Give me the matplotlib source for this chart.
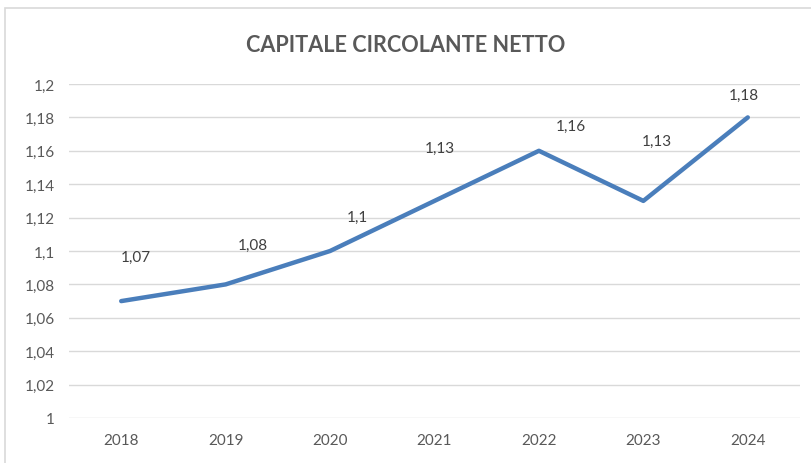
import matplotlib.pyplot as plt
from matplotlib.patches import Rectangle

# dati
anni = ['2018', '2019', '2020', '2021', '2022', '2023', '2024']
valori = [1.07, 1.08, 1.10, 1.13, 1.16, 1.13, 1.18]
etichette = ['1,07', '1,08', '1,1', '1,13', '1,16', '1,13', '1,18']
yticks = [1.00, 1.02, 1.04, 1.06, 1.08, 1.10, 1.12, 1.14, 1.16, 1.18, 1.20]
ytick_labels = ['1', '1,02', '1,04', '1,06', '1,08', '1,1', '1,12', '1,14', '1,16', '1,18', '1,2']

# spostamento delle etichette (pixel) rispetto al punto
offsets = [(15, 44), (27, 40), (27, 34), (5, 53), (32, 25), (13, 60), (-4, 23)]

plt.rcParams['font.family'] = ['Lato', 'DejaVu Sans']
grigio = '#595959'

fig = plt.figure(figsize=(8.11, 4.64), dpi=100)
fig.patches.append(Rectangle((5 / 811, -0.1), 1.2, 1 - 9 / 464 + 0.1,
                             transform=fig.transFigure, fill=False,
                             edgecolor='#d9d9d9', linewidth=1.2))

ax = fig.add_axes([69 / 811, 1 - 419 / 464, 731 / 811, 334 / 464])
x = list(range(len(anni)))
ax.plot(x, valori, color='#4a7ebb', linewidth=3.2, solid_capstyle='round',
        solid_joinstyle='round', zorder=3)

for xi, v, lab, (dx, dy) in zip(x, valori, etichette, offsets):
    ax.annotate(lab, (xi, v), xytext=(dx * 0.72, dy * 0.72), textcoords='offset points',
                ha='center', va='center', fontsize=11, color='#404040')

ax.set_xlim(-0.5, len(anni) - 0.5)
ax.set_ylim(1.0, 1.2)
ax.set_xticks(x)
ax.set_xticklabels(anni)
ax.set_yticks(yticks)
ax.set_yticklabels(ytick_labels)
ax.tick_params(length=0, labelsize=11, labelcolor=grigio)
ax.tick_params(axis='x', pad=11)
ax.tick_params(axis='y', pad=10)
ax.grid(axis='y', color='#d9d9d9', linewidth=1)
ax.set_axisbelow(True)
for s in ax.spines.values():
    s.set_visible(False)

fig.text(406 / 811, 1 - 45 / 464, 'CAPITALE CIRCOLANTE NETTO', ha='center', va='center',
         fontsize=15.6, fontweight='bold', color=grigio)

fig.savefig('out.png', dpi=100)
